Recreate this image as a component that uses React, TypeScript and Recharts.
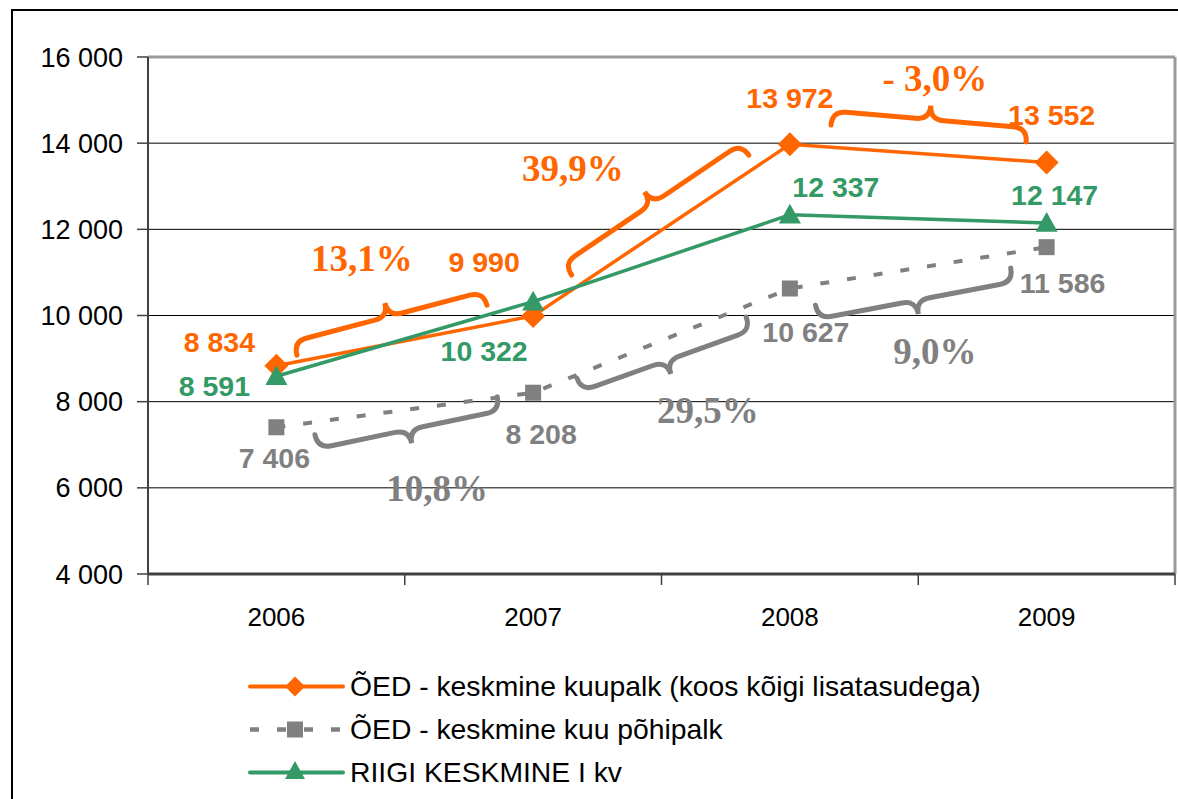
import React from 'react';
import {
  LineChart,
  Line,
  XAxis,
  YAxis,
  CartesianGrid,
  Legend,
  LabelList,
  ReferenceLine,
  ReferenceDot,
} from 'recharts';

const years = ['2006', '2007', '2008', '2009'];
const kuupalk = [8834, 9990, 13972, 13552];
const pohipalk = [7406, 8208, 10627, 11586];
const riigi = [8591, 10322, 12337, 12147];
const yTicks = [4000, 6000, 8000, 10000, 12000, 14000, 16000];
const xTicks = [0.5, 1, 1.5, 2, 2.5, 3, 3.5, 4, 4.5];

const seriesNames = {
  kuupalk: 'ÕED - keskmine kuupalk (koos kõigi lisatasudega)',
  pohipalk: 'ÕED - keskmine kuu põhipalk',
  riigi: 'RIIGI KESKMINE I kv',
};

// growth annotations: brace end points (x in category units, y in value units)
const orangeBraces = [
  { x1: 1.08, y1: 9080, x2: 1.82, y2: 10240 },
  { x1: 2.15, y1: 10940, x2: 2.84, y2: 13720 },
  { x1: 3.16, y1: 14420, x2: 3.92, y2: 14030 },
];
const grayBraces = [
  { x1: 1.15, y1: 7230, x2: 1.86, y2: 8110 },
  { x1: 2.17, y1: 8550, x2: 2.83, y2: 9960 },
  { x1: 3.1, y1: 10240, x2: 3.86, y2: 11100 },
];
const orangePct = [
  { x: 1.333, y: 11334, text: '13,1%' },
  { x: 2.155, y: 13423, text: '39,9%' },
  { x: 3.565, y: 15512, text: '- 3,0%' },
];
const grayPct = [
  { x: 1.626, y: 5996, text: '10,8%' },
  { x: 2.681, y: 7806, text: '29,5%' },
  { x: 3.565, y: 9153, text: '9,0%' },
];

// label offsets in px (dx, dy) from each point
const orangeOffsets = [[-57, -24], [-49, -54], [0, -46], [5, -47]];
const grayOffsets = [[-2, 31], [8, 41], [16, 44], [16, 36]];
const greenOffsets = [[-62, 10], [-49, 49], [46, -28], [8, -28]];

const ORANGE = '#FF6600';
const GRAY = '#808080';
const GREEN = '#339966';
const SANS = '"Liberation Sans", Arial, sans-serif';
const SERIF = '"Liberation Serif", "Times New Roman", serif';

const data = years.map((year, i) => ({
  pos: i + 1,
  year,
  kuupalk: kuupalk[i],
  pohipalk: pohipalk[i],
  riigi: riigi[i],
}));

const fmt = (v: number) => String(v).replace(/\B(?=(\d{3})+(?!\d))/g, ' ');

const Diamond = ({ cx, cy, r = 12, fill }: any) => (
  <path d={`M${cx},${cy - r}L${cx + r},${cy}L${cx},${cy + r}L${cx - r},${cy}Z`} fill={fill} />
);
const Square = ({ cx, cy, s = 8, fill }: any) => (
  <rect x={cx - s} y={cy - s} width={s * 2} height={s * 2} fill={fill} />
);
const Triangle = ({ cx, cy, w = 11, fill }: any) => (
  <path d={`M${cx},${cy - w}L${cx + w},${cy + w * 0.8}L${cx - w},${cy + w * 0.8}Z`} fill={fill} />
);

const bracePath = (x1: number, y1: number, x2: number, y2: number, up: boolean, h = 28, q = 14) => {
  const dx = x2 - x1;
  const dy = y2 - y1;
  const len = Math.sqrt(dx * dx + dy * dy);
  const tx = dx / len;
  const ty = dy / len;
  let nx = ty;
  let ny = -tx;
  if ((up && ny > 0) || (!up && ny < 0)) {
    nx = -nx;
    ny = -ny;
  }
  const mx = (x1 + x2) / 2;
  const my = (y1 + y2) / 2;
  const p = (x: number, y: number) => `${x.toFixed(1)},${y.toFixed(1)}`;
  const hh = h / 2;
  return [
    `M${p(x1, y1)}`,
    `Q${p(x1 + nx * hh, y1 + ny * hh)} ${p(x1 + nx * hh + tx * q, y1 + ny * hh + ty * q)}`,
    `L${p(mx + nx * hh - tx * q, my + ny * hh - ty * q)}`,
    `Q${p(mx + nx * hh, my + ny * hh)} ${p(mx + nx * h, my + ny * h)}`,
    `Q${p(mx + nx * hh, my + ny * hh)} ${p(mx + nx * hh + tx * q, my + ny * hh + ty * q)}`,
    `L${p(x2 + nx * hh - tx * q, y2 + ny * hh - ty * q)}`,
    `Q${p(x2 + nx * hh, y2 + ny * hh)} ${p(x2, y2)}`,
  ].join(' ');
};

const braceShape = (color: string, up: boolean) => (props: any) => (
  <path
    d={bracePath(props.x1, props.y1, props.x2, props.y2, up)}
    fill="none"
    stroke={color}
    strokeWidth={5}
    strokeLinecap="round"
  />
);

const pctShape = (text: string, color: string) => (props: any) => (
  <text
    x={props.cx}
    y={props.cy}
    textAnchor="middle"
    dominantBaseline="central"
    fontFamily={SERIF}
    fontWeight="bold"
    fontSize={37}
    fill={color}
  >
    {text}
  </text>
);

const valueLabel = (color: string, offsets: number[][]) => (props: any) => {
  const { x, y, index, value } = props;
  const [dx, dy] = offsets[index];
  return (
    <text
      x={x + dx}
      y={y + dy}
      textAnchor="middle"
      dominantBaseline="central"
      fontFamily={SANS}
      fontWeight="bold"
      fontSize={28.5}
      fill={color}
    >
      {fmt(value)}
    </text>
  );
};

const XTick = (props: any) => {
  const { x, y, payload } = props;
  const v = payload.value;
  if (v % 1 !== 0) {
    return <line x1={x} y1={y} x2={x} y2={y + 11} stroke="#404040" strokeWidth={1.5} />;
  }
  return (
    <text x={x} y={y + 34} dy="0.71em" textAnchor="middle" fontFamily={SANS} fontSize={26} fill="#000">
      {years[v - 1]}
    </text>
  );
};

const LegendContent = () => {
  const rows = [
    { name: seriesNames.kuupalk, color: ORANGE, kind: 'diamond' },
    { name: seriesNames.pohipalk, color: GRAY, kind: 'square' },
    { name: seriesNames.riigi, color: GREEN, kind: 'triangle' },
  ];
  return (
    <div>
      {rows.map((r) => (
        <div key={r.name} style={{ display: 'flex', alignItems: 'center', height: 43 }}>
          <svg width={102} height={43}>
            <line
              x1={2}
              y1={21.5}
              x2={95}
              y2={21.5}
              stroke={r.color}
              strokeWidth={r.kind === 'square' ? 4.5 : 4}
              strokeLinecap={r.kind === 'square' ? 'butt' : 'round'}
              strokeDasharray={r.kind === 'square' ? '9 18' : undefined}
            />
            {r.kind === 'diamond' && <Diamond cx={47} cy={21.5} r={10} fill={r.color} />}
            {r.kind === 'square' && <Square cx={47} cy={21.5} s={8} fill={r.color} />}
            {r.kind === 'triangle' && <Triangle cx={47} cy={20} w={10} fill={r.color} />}
          </svg>
          <span style={{ fontFamily: SANS, fontSize: 28.3, color: '#000', whiteSpace: 'nowrap' }}>{r.name}</span>
        </div>
      ))}
    </div>
  );
};

export default function App() {
  return (
    <div style={{ position: 'absolute', left: 0, top: 0, width: 1178, height: 799, overflow: 'hidden', background: '#fff' }}>
      <div
        style={{
          position: 'absolute',
          left: 11,
          top: 9,
          width: 1300,
          height: 900,
          borderLeft: '2px solid #000',
          borderTop: '2px solid #000',
        }}
      />
      <div style={{ position: 'absolute', left: 0, top: 0 }}>
        <LineChart width={1178} height={799} data={data} margin={{ top: 57, right: 3, left: 0, bottom: 165 }}>
          <CartesianGrid vertical={false} stroke="#000" strokeWidth={1} />
          <XAxis
            dataKey="pos"
            type="number"
            domain={[0.5, 4.5]}
            ticks={xTicks}
            interval={0}
            height={60}
            tickSize={0}
            tickMargin={0}
            tickLine={false}
            axisLine={{ stroke: '#404040', strokeWidth: 3 }}
            tick={<XTick />}
          />
          <YAxis
            domain={[4000, 16000]}
            ticks={yTicks}
            width={148}
            tickSize={11}
            tickMargin={14}
            tickFormatter={fmt}
            axisLine={{ stroke: '#404040', strokeWidth: 2 }}
            tickLine={{ stroke: '#404040', strokeWidth: 1.5 }}
            tick={{ fontSize: 27, fill: '#000', fontFamily: SANS }}
          />
          <ReferenceLine y={16000} stroke="#9a9a9a" strokeWidth={3} />
          <ReferenceLine x={4.5} stroke="#9a9a9a" strokeWidth={3} />
          <Legend
            layout="vertical"
            align="center"
            verticalAlign="middle"
            content={<LegendContent />}
            wrapperStyle={{ top: 665, left: 248, width: 800 }}
          />
          {orangeBraces.map((b, i) => (
            <ReferenceLine
              key={'ob' + i}
              segment={[{ x: b.x1, y: b.y1 }, { x: b.x2, y: b.y2 }]}
              ifOverflow="visible"
              shape={braceShape(ORANGE, true)}
            />
          ))}
          {grayBraces.map((b, i) => (
            <ReferenceLine
              key={'gb' + i}
              segment={[{ x: b.x1, y: b.y1 }, { x: b.x2, y: b.y2 }]}
              ifOverflow="visible"
              shape={braceShape(GRAY, false)}
            />
          ))}
          <Line
            dataKey="pohipalk"
            name={seriesNames.pohipalk}
            stroke={GRAY}
            strokeWidth={4}
            strokeDasharray="9 18"
            dot={(p: any) => <Square key={'s' + p.index} cx={p.cx} cy={p.cy} fill={GRAY} />}
            activeDot={false}
            isAnimationActive={false}
          >
            <LabelList dataKey="pohipalk" content={valueLabel(GRAY, grayOffsets)} />
          </Line>
          <Line
            dataKey="kuupalk"
            name={seriesNames.kuupalk}
            stroke={ORANGE}
            strokeWidth={3.5}
            dot={(p: any) => <Diamond key={'d' + p.index} cx={p.cx} cy={p.cy} fill={ORANGE} />}
            activeDot={false}
            isAnimationActive={false}
          >
            <LabelList dataKey="kuupalk" content={valueLabel(ORANGE, orangeOffsets)} />
          </Line>
          <Line
            dataKey="riigi"
            name={seriesNames.riigi}
            stroke={GREEN}
            strokeWidth={3.5}
            dot={(p: any) => <Triangle key={'t' + p.index} cx={p.cx} cy={p.cy} fill={GREEN} />}
            activeDot={false}
            isAnimationActive={false}
          >
            <LabelList dataKey="riigi" content={valueLabel(GREEN, greenOffsets)} />
          </Line>
          {orangePct.map((l) => (
            <ReferenceDot key={l.text} x={l.x} y={l.y} r={0} ifOverflow="visible" shape={pctShape(l.text, ORANGE)} />
          ))}
          {grayPct.map((l) => (
            <ReferenceDot key={l.text} x={l.x} y={l.y} r={0} ifOverflow="visible" shape={pctShape(l.text, GRAY)} />
          ))}
        </LineChart>
      </div>
    </div>
  );
}
